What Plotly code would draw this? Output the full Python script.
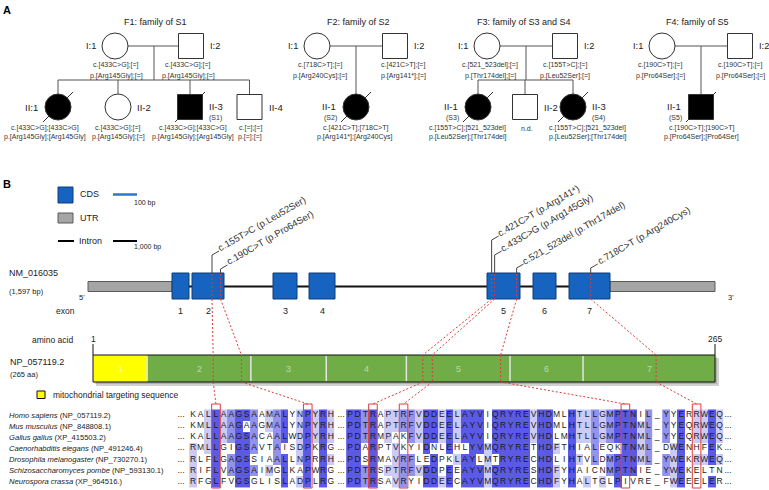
import math
import plotly.graph_objects as go

W, H = 769, 490
FONT = "Liberation Sans, Arial, sans-serif"
TXT = "#222222"

# ===================== DATA =====================
# ---- Panel A: pedigrees ----
family_titles = ["F1: family of S1", "F2: family of S2", "F3: family of S3 and S4", "F4: family of S5"]
parent_family = [0, 0, 1, 1, 2, 2, 3, 3]
parent_ids = ["I:1", "I:2", "I:1", "I:2", "I:1", "I:2", "I:1", "I:2"]
parent_sex = ["F", "M", "F", "M", "F", "M", "F", "M"]
parent_cdna = ["c.[433C>G];[=]", "c.[433C>G];[=]", "c.[718C>T];[=]", "c.[421C>T];[=]",
               "c.[521_523del];[=]", "c.[155T>C];[=]", "c.[190C>T];[=]", "c.[190C>T];[=]"]
parent_prot = ["p.[Arg145Gly];[=]", "p.[Arg145Gly];[=]", "p.[Arg240Cys];[=]", "p.[Arg141*];[=]",
               "p.[Thr174del];[=]", "p.[Leu52Ser];[=]", "p.[Pro64Ser];[=]", "p.[Pro64Ser];[=]"]

child_family = [0, 0, 0, 0, 1, 2, 2, 2, 3]
child_ids = ["II:1", "II-2", "II-3", "II-4", "II-1", "II-1", "II-2", "II-3", "II-1"]
child_sex = ["F", "F", "M", "M", "F", "F", "M", "F", "M"]
child_affected = [1, 0, 1, 0, 1, 1, 0, 1, 1]
child_deceased = [1, 0, 1, 0, 1, 1, 0, 1, 1]
child_patient = ["", "", "S1", "", "S2", "S3", "", "S4", "S5"]
child_cdna = ["c.[433C>G];[433C>G]", "c.[433C>G];[=]", "c.[433C>G];[433C>G]", "c.[=];[=]",
              "c.[421C>T];[718C>T]", "c.[155T>C];[521_523del]", "n.d.", "c.[155T>C];[521_523del]",
              "c.[190C>T];[190C>T]"]
child_prot = ["p.[Arg145Gly];[Arg145Gly]", "p.[Arg145Gly];[=]", "p.[Arg145Gly];[Arg145Gly]", "p.[=];[=]",
              "p.[Arg141*];[Arg240Cys]", "p.[Leu52Ser];[Thr174del]", "", "p.[Leu52Ser];[Thr174del]",
              "p.[Pro64Ser];[Pro64Ser]"]

# ---- Panel B: gene / protein ----
gene_name = "NM_016035"
gene_len = "(1,597 bp)"
exon_numbers = [1, 2, 3, 4, 5, 6, 7]
exon_cds_end = [72, 204, 300, 402, 534, 627, 798]     # last c. position of each coding exon
protein_name = "NP_057119.2"
protein_len = 265
mts_end = 24                                            # mitochondrial targeting sequence
mut_cdna = ["c.155T>C", "c.190C>T", "c.421C>T", "c.433C>G", "c.521_523del", "c.718C>T"]
mut_cpos = [155, 190, 421, 433, 521, 718]
mut_prot = ["p.Leu52Ser", "p.Pro64Ser", "p.Arg141*", "p.Arg145Gly", "p.Thr174del", "p.Arg240Cys"]
mut_aa = [52, 64, 141, 145, 174, 240]

# ---- Panel B: alignment ----
species = ["Homo sapiens", "Mus musculus", "Gallus gallus", "Caenorhabditis elegans",
           "Drosophila melanogaster", "Schizosaccharomyces pombe", "Neurospora crassa"]
accessions = ["(NP_057119.2)", "(NP_848808.1)", "(XP_415503.2)", "(NP_491246.4)",
              "(NP_730270.1)", "(NP_593130.1)", "(XP_964516.)"]
seg1 = ["KALLAAGSAAMALYNPYRH", "KMLLAAGAAGMALYNPYRH", "KALLAAGSACAALWDPYRH", "RMLLGIGSAVTAISDPKRG",
        "RLFLGAGSSIAALLNPRRH", "RIFLVAGSAIMGLKAPWRG", "RFGLFVGSGLISLADPLRG"]
seg2 = ["PDTRAPTRFVDDEELAYVIQRYREVHDMLHTLLGMPTNIL", "PDTRAPTRFVDDEELAYVIQRYREVHDMLHTLLGMPTNML",
        "PDTRMPAKFVDDEELAYVIQRYREVHDLMHTLLGMPTNML", "PDARPTVKYIDNLEHLYVMQRYRETHDFTHIALEQKTNML",
        "PDSRMAVRFLEDPKLAYLMTRYRECHDLIHTVLDMPTNML", "PDTRSPTRFVDDPEEAYVMQRYRESHDFYHAICNMPTNIE",
        "PDTRSAVRYIDDEECAYVMQRYRECHDFYHALTGLPIVRE"]
seg3 = ["YYERRWEQ", "YYEQRWEQ", "YYEQRWEQ", "DWENHFEK", "YWEKRWEQ", "YWEKELTN", "FWEEELER"]
segment_first_aa = [49, 138, 236]   # human residue number of the first column of each segment

# ===================== LAYOUT (pixel canvas) =====================
shapes, annots = [], []


def L(x0, y0, x1, y1, color="#333333", w=1, dash=None):
    ln = dict(color=color, width=w)
    if dash:
        ln["dash"] = dash
    shapes.append(dict(type="line", x0=x0, y0=y0, x1=x1, y1=y1, xref="x", yref="y", line=ln))


def R(x0, y0, x1, y1, fill, lc="rgba(0,0,0,0)", lw=0, layer="above"):
    shapes.append(dict(type="rect", x0=x0, y0=y0, x1=x1, y1=y1, xref="x", yref="y",
                       fillcolor=fill, line=dict(color=lc, width=lw), layer=layer))


def C(cx, cy, r, fill, lc="#333333", lw=1):
    shapes.append(dict(type="circle", x0=cx - r, y0=cy - r, x1=cx + r, y1=cy + r, xref="x", yref="y",
                       fillcolor=fill, line=dict(color=lc, width=lw)))


def T(x, y, s, size=9, color=TXT, xa="center", ya="middle", angle=0):
    annots.append(dict(x=x, y=y, xref="x", yref="y", text=s, showarrow=False, xanchor=xa, yanchor=ya,
                       textangle=angle, font=dict(family=FONT, size=size, color=color), borderpad=0))


# ---------- Panel A ----------
T(2, 10, "<b>A</b>", 11, "#000", xa="left")
title_x = [155, 358, 524, 697]
parent_x = [115, 191, 317, 395, 487, 565, 662, 740]
parent_text_x = [116, 188, 320, 403, 490, 565, 660, 740]
descent_x = [154, 356, 526, 701]
child_x = [58, 118, 190, 249.5, 356, 478, 525, 573, 701]
child_text_x = [45, 118, 193, 250, 355, 467, 527, 587, 701]
child_label_side = ["L", "R", "R", "R", "L", "L", "R", "R", "L"]
PY, SIBY, CY, RS, HS = 46, 80, 107, 13, 12.5
PEDLINE = "#555555"
GT = 7.0   # genotype font size

for f in range(4):
    px = [parent_x[i] for i in range(8) if parent_family[i] == f]
    L(px[0] + RS, PY, px[1] - HS, PY, PEDLINE)
    kids = [child_x[i] for i in range(len(child_x)) if child_family[i] == f]
    if len(kids) > 1:
        L(descent_x[f], PY, descent_x[f], SIBY, PEDLINE)
        L(min(kids), SIBY, max(kids), SIBY, PEDLINE)
        for k in kids:
            L(k, SIBY, k, CY - 13, PEDLINE)
    else:
        L(descent_x[f], PY, descent_x[f], CY - 13, PEDLINE)
    T(title_x[f], 22, family_titles[f], 9)


def symbol(cx, cy, sex, filled):
    fill = "#000000" if filled else "#ffffff"
    if sex == "F":
        C(cx, cy, RS, fill)
    else:
        R(cx - HS, cy - HS, cx + HS, cy + HS, fill, "#333333", 1)


for i in range(8):
    x = parent_x[i]
    symbol(x, PY, parent_sex[i], False)
    if parent_ids[i] == "I:1":
        T(x - RS - 5, PY, parent_ids[i], 9.3, xa="right")
    else:
        T(x + HS + 5, PY, parent_ids[i], 9.3, xa="left")
    T(parent_text_x[i], 65, parent_cdna[i], GT, "#333")
    T(parent_text_x[i], 76, parent_prot[i], GT, "#333")

for i in range(len(child_x)):
    x = child_x[i]
    if child_deceased[i]:
        L(x - 15, CY + 15, x + 15, CY - 15, "#333333", 1)
    symbol(x, CY, child_sex[i], child_affected[i])
    ly = CY - 1 if child_patient[i] else CY
    if child_label_side[i] == "L":
        rx = x - RS - 6
        T(rx, ly, child_ids[i], 9.5, xa="right")
        if child_patient[i]:
            T(rx - 6.5, 117.5, "(" + child_patient[i] + ")", 7, "#333")
    else:
        lx = x + RS + 5
        T(lx, ly, child_ids[i], 9.5, xa="left")
        if child_patient[i]:
            T(lx, 117.5, "(" + child_patient[i] + ")", 7, "#333", xa="left")
    T(child_text_x[i], 128, child_cdna[i], GT, "#333")
    if child_prot[i]:
        T(child_text_x[i], 137, child_prot[i], GT, "#333")

# ---------- Panel B : legend ----------
BLUE, BLUE_D = "#1763c0", "#0f3f7c"
GRAY, GRAY_D = "#a5a5a5", "#5a5a5a"
T(2, 184, "<b>B</b>", 11, "#000", xa="left")
R(58, 187, 73, 203, BLUE, BLUE_D, 1)
T(79, 194, "CDS", 9, xa="left")
L(113, 194.5, 137, 194.5, "#2f74d0", 2.5)
T(133, 203, "100 bp", 7, xa="left")
R(58, 213, 73, 223, GRAY, GRAY_D, 1)
T(79, 218, "UTR", 9, xa="left")
L(58, 241, 74, 241, "#000", 2)
T(78, 241, "Intron", 9, xa="left")
L(113, 241, 137, 241, "#000", 2)
T(133, 247, "1,000 bp", 7, xa="left")

# ---------- Panel B : gene ----------
exon_start = [172, 192, 273, 309, 487, 533, 569]
exon_end = [189, 224, 297, 335, 520, 556, 610]
utr5, utr3 = (88, 172), (610, 715)
GY, ET, EB = 286.5, 273, 299

T(8, 273, gene_name, 9, xa="left")
T(8, 291, gene_len, 7.5, xa="left")
T(82, 297, "5'", 7.5)
T(731, 297, "3'", 7.5)
T(55, 311, "exon", 8.5, xa="left")
L(utr5[1], GY, exon_start[-1], GY, "#111", 2)
R(utr5[0], GY - 5, utr5[1], GY + 5, GRAY, GRAY_D, 1)
R(utr3[0], GY - 5, utr3[1], GY + 5, GRAY, GRAY_D, 1)
for i, n in enumerate(exon_numbers):
    R(exon_start[i], ET, exon_end[i], EB, BLUE, BLUE_D, 1)
    T((exon_start[i] + exon_end[i]) / 2, 311, str(n), 9)


def cdna_x(c):
    prev = 0
    for i, end in enumerate(exon_cds_end):
        if c <= end:
            return exon_start[i] + (c - prev - 0.5) / (end - prev) * (exon_end[i] - exon_start[i])
        prev = end


# ---------- Panel B : protein ----------
PX0, PX1, PT, PB = 93, 715, 355, 382


def prot_x(aa):
    return PX0 + (aa - 1) / (protein_len - 1) * (PX1 - PX0)


T(52, 340, "amino acid", 8.5)
T(PX0, 339, "1", 8.5)
T(PX1, 339, str(protein_len), 8.5)
L(PX0, 344, PX0, PT, "#111", 1)
L(PX1, 344, PX1, PT, "#111", 1)
T(9, 362, protein_name, 9, xa="left")
T(9, 374, "(%d aa)" % protein_len, 7.5, xa="left")
R(PX0 + 3, PT + 3, PX1 + 4, PB + 4, "rgba(0,0,0,0.18)", layer="below")
R(PX0 + 1.5, PT + 1.5, PX1 + 2, PB + 2, "rgba(0,0,0,0.15)", layer="below")
R(PX0, PT, prot_x(mts_end), PB, "#ffff00")
R(prot_x(mts_end), PT, PX1, PB, "#70ad47")
bounds = [1] + [e / 3 for e in exon_cds_end[:-1]] + [protein_len]
for b in bounds[1:-1]:
    L(prot_x(b), PT + 1, prot_x(b), PB - 1, "#e4e4e4", 1.5)
for i, n in enumerate(exon_numbers):
    T((prot_x(bounds[i]) + prot_x(bounds[i + 1])) / 2, 368.5, str(n), 9, "rgba(255,255,255,0.55)")
R(PX0, PT, PX1, PB, "rgba(0,0,0,0)", "#111", 1)
R(37, 391, 45, 398.5, "#ffff00", "#111", 1)
T(52, 395, "mitochondrial targeting sequence", 8.5, xa="left")

# ---------- Panel B : alignment ----------
ROW_Y0, ROW_DY = 415, 11.1
SEG_X0 = [193, 350, 666]
CW = 7.65
segs = [seg1, seg2, seg3]
row_y = [ROW_Y0 + i * ROW_DY for i in range(len(species))]
BOX_T, BOX_B = 404, 488
RED = "#e03a3a"


def conservation(seqs):
    n, m = len(seqs), len(seqs[0])
    z = [[0] * m for _ in range(n)]
    for j in range(m):
        col = [s[j] for s in seqs]
        cnt = {c: col.count(c) for c in set(col)}
        mx = max(cnt.values())
        fr = mx / n
        lev = 3 if fr > 0.8 else 2 if fr > 0.6 else 1 if fr > 0.4 else 0
        for i, c in enumerate(col):
            if cnt[c] == mx:
                z[i][j] = lev
    return z


cscale = [[0, "#ffffff"], [1 / 6, "#ffffff"], [1 / 6, "#cbcbf6"], [0.5, "#cbcbf6"],
          [0.5, "#9393ee"], [5 / 6, "#9393ee"], [5 / 6, "#5a5ae6"], [1, "#5a5ae6"]]

traces = []
tx, ty, tt = [], [], []
for k, seg in enumerate(segs):
    xs = [SEG_X0[k] + j * CW for j in range(len(seg[0]))]
    traces.append(go.Heatmap(x=xs, y=row_y, z=conservation(seg), colorscale=cscale, zmin=0, zmax=3,
                             showscale=False, hoverinfo="skip"))
    for i, s in enumerate(seg):
        for j, ch in enumerate(s):
            tx.append(xs[j]); ty.append(row_y[i]); tt.append(ch)
for i in range(len(species)):
    tx += [181, 341, 657, 728]
    ty += [row_y[i]] * 4
    tt += ["...", "...", "_", "..."]
    T(8, row_y[i], "<i>%s</i> %s" % (species[i], accessions[i]), 7.6, xa="left")
traces.append(go.Scatter(x=tx, y=ty, text=tt, mode="text", hoverinfo="skip",
                         textfont=dict(family=FONT, size=8.5, color="#1a1a1a"), textposition="middle center"))

ARIAL = {".": .278, ",": .278, "(": .333, ")": .333, "[": .278, "]": .278, " ": .278, ">": .584,
         "_": .556, "*": .389, ";": .278, "=": .584, "c": .5, "y": .5, "s": .5, "l": .222, "i": .222,
         "r": .333, "t": .278, "f": .278, "m": .833, "C": .722, "T": .611, "L": .556, "S": .667,
         "P": .667, "A": .667, "G": .778}


def text_width(s, fs):
    return sum(ARIAL.get(ch, .556) for ch in s) * fs


# mutations: leader lines, labels, dashed red connections
label_rise = [18, 4, 33, 18, 5, 5]
ANG = 30
th = math.radians(ANG)
for m in range(len(mut_cpos)):
    gx = cdna_x(mut_cpos[m])
    top = ET - label_rise[m]
    L(gx, ET, gx, top, "#444", 1)
    L(gx, top, gx + 7, top - 4, "#444", 1)
    lab = "%s (%s)" % (mut_cdna[m], mut_prot[m])
    fs = 9.5
    lw = text_width(lab, fs)
    sx, sy = gx + 8.5, top - 3.5
    cx = sx + lw / 2 * math.cos(th) - fs * 0.36 * math.sin(th)
    cy = sy - lw / 2 * math.sin(th) - fs * 0.36 * math.cos(th)
    T(cx, cy, lab, fs, "#333", angle=-ANG)
    pxm = prot_x(mut_aa[m])
    for k, seg in enumerate(segs):
        col = mut_aa[m] - segment_first_aa[k]
        if 0 <= col < len(seg[0]):
            ax = SEG_X0[k] + col * CW
    L(gx, ET + 1, gx, EB, RED, 1, "2px,2px")
    L(gx, EB, pxm, PT, RED, 1, "2px,2px")
    L(pxm, PT, pxm, PB, RED, 1, "2px,2px")
    L(pxm, PB, ax, BOX_T, RED, 1, "2px,2px")
    R(ax - 4.3, BOX_T, ax + 4.3, BOX_B, "rgba(0,0,0,0)", RED, 1)

fig = go.Figure(traces)
fig.update_layout(
    width=W, height=H, margin=dict(l=0, r=0, t=0, b=0),
    paper_bgcolor="white", plot_bgcolor="white", showlegend=False,
    xaxis=dict(range=[0, W], visible=False, fixedrange=True),
    yaxis=dict(range=[H, 0], visible=False, fixedrange=True),
    shapes=shapes, annotations=annots,
)
fig.write_html("out.html", config={"displayModeBar": False})

# remove default page margin so the 769x490 figure fills the window exactly
with open("out.html", encoding="utf-8") as fh:
    html = fh.read()
html = html.replace("<body>", '<body style="margin:0;padding:0;overflow:hidden">', 1)
with open("out.html", "w", encoding="utf-8") as fh:
    fh.write(html)
